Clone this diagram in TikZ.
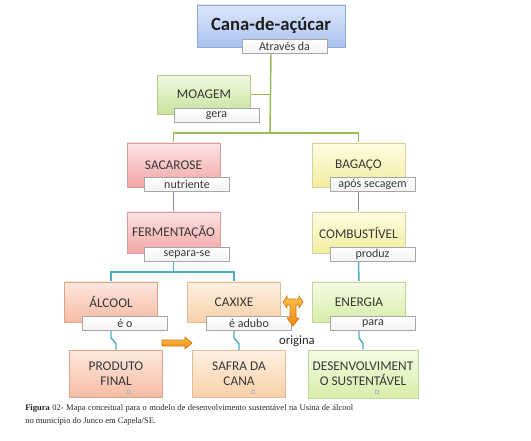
\documentclass[tikz,border=0pt]{standalone}
\usepackage{fontspec}
\setmainfont{Carlito}
\newfontfamily\capfont{Liberation Serif}
\usetikzlibrary{shadows,backgrounds}
\definecolor{txt}{HTML}{383838}
\definecolor{gline}{HTML}{9BBB59}
\definecolor{pline}{HTML}{8A86B8}
\definecolor{bline}{HTML}{4BACC6}
\definecolor{lgray}{HTML}{A6A6A6}
\definecolor{orgA}{HTML}{FBC24C}
\definecolor{orgB}{HTML}{F0880E}
\definecolor{orgD}{HTML}{D9730C}
\definecolor{bluT}{HTML}{DCE6FA}\definecolor{bluB}{HTML}{ABC3F1}\definecolor{bluD}{HTML}{8FA8D8}
\definecolor{grnT}{HTML}{F0F8E0}\definecolor{grnB}{HTML}{C8E39C}\definecolor{grnD}{HTML}{B5CC8C}
\definecolor{pnkT}{HTML}{FCE3E3}\definecolor{pnkB}{HTML}{F2A5A5}\definecolor{pnkD}{HTML}{D99B9B}
\definecolor{yelT}{HTML}{FEFDE2}\definecolor{yelB}{HTML}{F2EC9E}\definecolor{yelD}{HTML}{D6D1A0}
\definecolor{salT}{HTML}{FDE8DE}\definecolor{salB}{HTML}{F6BBA4}\definecolor{salD}{HTML}{D9A590}
\definecolor{peaT}{HTML}{FEF0E2}\definecolor{peaB}{HTML}{F8D1A8}\definecolor{peaD}{HTML}{DDBC98}
\definecolor{limT}{HTML}{F5FBE3}\definecolor{limB}{HTML}{D8EDA8}\definecolor{limD}{HTML}{BFD39C}
\tikzset{
  mbox/.style={rectangle, draw, minimum width=69.5pt, minimum height=31pt, inner sep=1pt,
    align=center, font=\fontsize{10}{11.5}\selectfont, text=txt,
    drop shadow={shadow xshift=0.6pt, shadow yshift=-1pt, opacity=0.22}},
  lbox/.style={rectangle, draw=lgray, top color=white, bottom color=black!5,
    minimum width=63.5pt, minimum height=10.5pt, inner sep=0pt,
    font=\fontsize{9}{10}\selectfont, text=txt,
    drop shadow={shadow xshift=0.4pt, shadow yshift=-0.6pt, opacity=0.15}},
  greencol/.style={top color=grnT, bottom color=grnB, draw=grnD},
  pinkcol/.style={top color=pnkT, bottom color=pnkB, draw=pnkD},
  yelcol/.style={top color=yelT, bottom color=yelB, draw=yelD},
  salcol/.style={top color=salT, bottom color=salB, draw=salD},
  peacol/.style={top color=peaT, bottom color=peaB, draw=peaD},
  limcol/.style={top color=limT, bottom color=limB, draw=limD},
  bluecol/.style={top color=bluT, bottom color=bluB, draw=bluD},
  gl/.style={draw=gline, line width=1.1pt},
  pl/.style={draw=pline, line width=1.1pt},
  bl/.style={draw=bline, line width=1.1pt},
  orarrow/.style={draw=orgD, line width=0.5pt, top color=orgA, bottom color=orgB}
}
\begin{document}
\begin{tikzpicture}[x=0.75pt,y=-0.75pt]
\useasboundingbox (0,0) rectangle (531,441);

% main boxes
\node[mbox, bluecol, minimum width=111pt, minimum height=31.5pt,
      font=\fontsize{14}{16}\bfseries\selectfont, text=black!88] (cana) at (271,26) {Cana-de-açúcar};
\node[lbox] (canal) at (284.5,46.5) {Através da};

\node[mbox, greencol, minimum height=29pt] (moa) at (204,94.5) {MOAGEM};
\node[lbox] (moal) at (216.5,115.5) {gera};

\node[mbox, pinkcol, minimum height=33pt] (sac) at (173.5,165) {SACAROSE};
\node[lbox] (sacl) at (187,184.5) {nutriente};
\node[mbox, yelcol, minimum height=33pt] (bag) at (358.5,165) {BAGAÇO};
\node[lbox] (bagl) at (372.5,184.5) {após secagem};

\node[mbox, pinkcol, minimum height=31pt] (fer) at (173.5,232.5) {FERMENTAÇÃO};
\node[lbox] (ferl) at (187,254.5) {separa-se};
\node[mbox, yelcol, minimum height=31pt] (com) at (358.5,232.5) {COMBUSTÍVEL};
\node[lbox] (coml) at (372.5,254.5) {produz};

\node[mbox, salcol, minimum height=30pt] (alc) at (111,302) {ÁLCOOL};
\node[lbox] (alcl) at (125,323.5) {é o};
\node[mbox, peacol, minimum height=30pt] (cax) at (234,302) {CAXIXE};
\node[lbox] (caxl) at (249,323.5) {é adubo};
\node[mbox, limcol, minimum height=30pt] (ene) at (359,302) {ENERGIA};
\node[lbox] (enel) at (373,323.5) {para};

\node[mbox, salcol, minimum height=35pt] (prod) at (116,373.5) {PRODUTO\\FINAL};
\node[mbox, peacol, minimum height=35pt] (saf) at (239,373.5) {SAFRA DA\\CANA};
\node[mbox, limcol, minimum height=36pt, minimum width=82.5pt] (des) at (363,374) {DESENVOLVIMENT\\O SUSTENTÁVEL};

% tiny markers in bottom boxes
\draw[gray!55, line width=0.4pt] (127.5,390.5) rectangle ++(3,3);
\draw[gray!55, line width=0.4pt] (251.5,390.5) rectangle ++(3,3);
\draw[gray!55, line width=0.4pt] (375.5,390.5) rectangle ++(3,3);

% connectors
\begin{scope}[on background layer]
\coordinate (hub) at (270,133);
\coordinate (bhub) at (173.5,272);
\draw[gl] (cana.center |- canal.south) -- (hub);
\draw[gl] (sac.north) |- (hub) -| (bag.north);
\draw[gl] (moa.east) -- (moa.east -| hub);
\draw[pl] (sac.center |- sacl.south) -- (fer.north);
\draw[pl] (bag.center |- bagl.south) -- (com.north);
\draw[bl] (fer.center |- ferl.south) -- (bhub);
\draw[bl] (alc.north) |- (bhub) -| (cax.north);
\draw[bl] (com.center |- coml.south) -- (ene.north);
\draw[bl] (alc.center |- alcl.south) -- ++(0,7) -- ++(5,6) |- (prod.north);
\draw[bl] (cax.center |- caxl.south) -- ++(0,7) -- ++(5,6) |- (saf.north);
\draw[bl] (ene.center |- enel.south) -- ++(0,7) -- ++(4,6) |- (des.north);
\end{scope}

% orange arrows
\path[orarrow] (283,302) -- (287,296) -- (287,299) -- (299,299) -- (299,296) -- (303,302)
  -- (299,308) -- (299,305) -- (296,305) -- (296,318) -- (299,318) -- (293,326) -- (287,318)
  -- (290,318) -- (290,305) -- (287,305) -- (287,308) -- cycle;
\path[orarrow] (162,340) -- (185,340) -- (185,337) -- (192,343) -- (185,349) -- (185,346)
  -- (162,346) -- cycle;
\node[font=\fontsize{9.5}{11}\selectfont, text=black!85, inner sep=0pt] (orig) at (297,341) {origina};

% caption
\node[anchor=north west, text width=246pt, align=justify, inner sep=0pt, text=black!85,
      font=\capfont\fontsize{6.4}{9.6}\selectfont] (cap) at (25,404)
  {\textbf{Figura} 02- Mapa conceitual para o modelo de desenvolvimento sustentável na Usina de álcool\linebreak no município do Junco em Capela/SE.};
\end{tikzpicture}
\end{document}
